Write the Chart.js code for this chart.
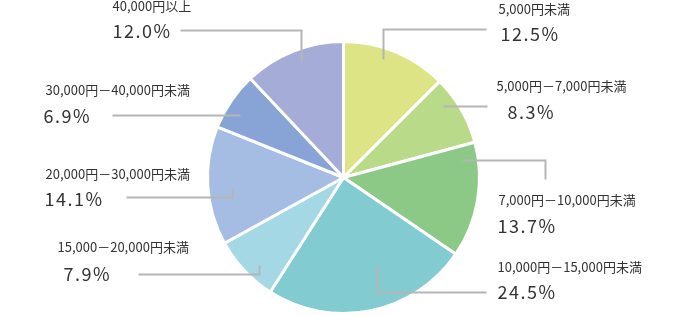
<!DOCTYPE html>
<html>
<head>
<meta charset="utf-8">
<script src="https://cdn.jsdelivr.net/npm/chart.js@4"></script>
<style>
  html, body { margin: 0; padding: 0; background: #fff; }
  #wrap { width: 690px; height: 316px; }
</style>
</head>
<body>
<div id="wrap"><canvas id="pie" width="690" height="316"></canvas></div>
<script>
// data
var categories = ['5,000円未満', '5,000円－7,000円未満', '7,000円－10,000円未満', '10,000円－15,000円未満',
                  '15,000－20,000円未満', '20,000円－30,000円未満', '30,000円－40,000円未満', '40,000円以上'];
var shares = [12.5, 8.3, 13.7, 24.5, 7.9, 14.1, 6.9, 12.0];
var sliceColors = ['#dce486', '#b9da89', '#8dc986', '#82cbd1', '#a3d8e4', '#a5bde3', '#88a3d5', '#a5acd7'];

// where each callout sits, relative to the pie centre (344,178)
var callouts = [
    { line: [[40, -118], [40, -148], [143, -148]], cat: [155, -168], pct: [157, -143] },
    { line: [[100, -71], [144, -71]], cat: [153, -91], pct: [164, -65] },
    { line: [[119, -17], [202, -17], [202, 2]], cat: [155, 23], pct: [154, 49] },
    { line: [[34, 88], [34, 115], [143, 115]], cat: [154, 90], pct: [154, 115] },
    { line: [[-84, 88], [-84, 97], [-205, 97]], cat: [-286, 70], pct: [-280, 97] },
    { line: [[-111, 11], [-111, 20], [-217, 20]], cat: [-298, -3], pct: [-299, 22] },
    { line: [[-103, -62], [-231, -62]], cat: [-298, -87], pct: [-300, -61] },
    { line: [[-42, -115], [-42, -147], [-163, -147]], cat: [-231, -171], pct: [-231, -146] }
];

var calloutPlugin = {
    id: 'callouts',
    afterDraw: function (chart) {
        var ctx = chart.ctx;
        var arc = chart.getDatasetMeta(0).data[0];
        var cx = arc.x, cy = arc.y;
        ctx.save();
        ctx.strokeStyle = '#b5b5b5';
        ctx.lineWidth = 2;
        callouts.forEach(function (c, i) {
            ctx.beginPath();
            c.line.forEach(function (p, j) {
                if (j === 0) ctx.moveTo(cx + p[0], cy + p[1]);
                else ctx.lineTo(cx + p[0], cy + p[1]);
            });
            ctx.stroke();

            ctx.fillStyle = '#333';
            ctx.textAlign = 'left';
            ctx.textBaseline = 'middle';
            ctx.font = '13px "Noto Sans CJK JP"';
            ctx.letterSpacing = '0px';
            ctx.fillText(categories[i], cx + c.cat[0], cy + c.cat[1]);
            ctx.font = '18px "Noto Sans CJK JP"';
            ctx.letterSpacing = '1.5px';
            ctx.fillText(shares[i].toFixed(1) + '%', cx + c.pct[0], cy + c.pct[1]);
        });
        ctx.restore();
    }
};

new Chart(document.getElementById('pie'), {
    type: 'pie',
    data: {
        labels: categories,
        datasets: [{
            data: shares,
            backgroundColor: sliceColors,
            borderColor: '#ffffff',
            borderWidth: 3
        }]
    },
    options: {
        responsive: false,
        animation: false,
        layout: {
            padding: { left: 206, right: 209, top: 40, bottom: 1 }
        },
        plugins: {
            legend: { display: false },
            tooltip: { enabled: false }
        }
    },
    plugins: [calloutPlugin]
});
</script>
</body>
</html>
